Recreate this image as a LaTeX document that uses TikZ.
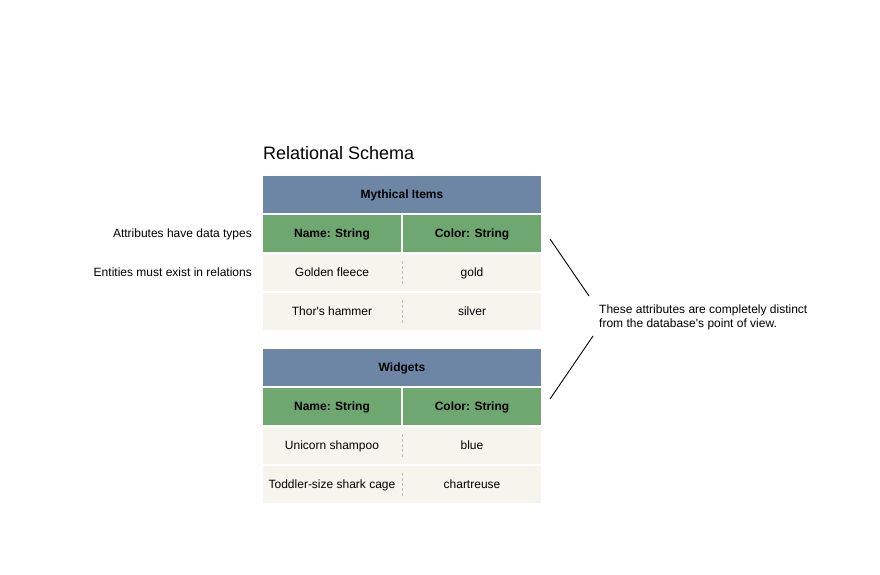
\documentclass[tikz,border=0pt]{standalone}
\usepackage{fontspec}
\setmainfont{Liberation Sans}[Ligatures=TeXOff]
\definecolor{titlec}{RGB}{110,134,165}
\definecolor{headc}{RGB}{111,167,112}
\definecolor{rowc}{RGB}{245,245,238}
\definecolor{sepc}{RGB}{190,190,190}
\begin{document}
\begin{tikzpicture}[x=1pt,y=-1pt,
  base/.style={inner sep=0pt,outer sep=0pt,anchor=north west,text height=8.6pt,text depth=0pt,font=\fontsize{12}{14}\selectfont},
  titlebar/.style={base,fill=titlec,minimum width=278pt,minimum height=37pt,font=\fontsize{12}{14}\selectfont\bfseries},
  headcell/.style={base,fill=headc,minimum width=138pt,minimum height=37pt,font=\fontsize{12}{14}\selectfont\bfseries},
  datarow/.style={base,fill=rowc,minimum width=278pt,minimum height=37pt},
  celltext/.style={inner sep=0pt,text height=8.6pt,text depth=0pt,font=\fontsize{12}{14}\selectfont},
  sepline/.style={draw=sepc,line width=0.8pt,dash pattern=on 3pt off 2pt},
  note/.style={inner sep=0pt,font=\fontsize{12}{14}\selectfont},
  pointer/.style={draw=black,line width=0.9pt}]
\useasboundingbox (0,0) rectangle (880,575);
\fill[white] (0,0) rectangle (880,575);

\node[inner sep=0pt,anchor=west,text height=12.9pt,text depth=0pt,font=\fontsize{18}{21}\selectfont] (schema) at (263,153) {Relational Schema};

% Table 1
\node[titlebar] (t1) at (263,176) {Mythical Items};
\node[headcell] (h1a) at (263,215) {Name: String};
\node[headcell] (h1b) at (403,215) {Color: String};
\node[datarow] (r11) at (263,254) {};
\node[datarow] (r12) at (263,293) {};
\node[celltext] (c111) at (332,272.5) {Golden fleece};
\node[celltext] (c112) at (472,272.5) {gold};
\node[celltext] (c121) at (332,311.5) {Thor's hammer};
\node[celltext] (c122) at (472,311.5) {silver};
\draw[sepline] ([yshift=-7pt]r11.north) -- ([yshift=7pt]r11.south);
\draw[sepline] ([yshift=-7pt]r12.north) -- ([yshift=7pt]r12.south);

% Table 2
\node[titlebar] (t2) at (263,349) {Widgets};
\node[headcell] (h2a) at (263,388) {Name: String};
\node[headcell] (h2b) at (403,388) {Color: String};
\node[datarow] (r21) at (263,427) {};
\node[datarow] (r22) at (263,466) {};
\node[celltext] (c211) at (332,445.5) {Unicorn shampoo};
\node[celltext] (c212) at (472,445.5) {blue};
\node[celltext] (c221) at (332,484.5) {Toddler-size shark cage};
\node[celltext] (c222) at (472,484.5) {chartreuse};
\draw[sepline] ([yshift=-7pt]r21.north) -- ([yshift=7pt]r21.south);
\draw[sepline] ([yshift=-7pt]r22.north) -- ([yshift=7pt]r22.south);

% Left labels
\node[celltext,anchor=east] (lab1) at (252,233.5) {Attributes have data types};
\node[celltext,anchor=east] (lab2) at (252,272.5) {Entities must exist in relations};

% Right note
\node[note,anchor=west,align=left] (rnote) at (599,317) {These attributes are completely distinct\\from the database's point of view.};

\coordinate (p1a) at (550,239);
\coordinate (p1b) at (589,296);
\coordinate (p2a) at (593,336);
\coordinate (p2b) at (550,399);
\draw[pointer] (p1a) -- (p1b);
\draw[pointer] (p2a) -- (p2b);
\end{tikzpicture}
\end{document}
